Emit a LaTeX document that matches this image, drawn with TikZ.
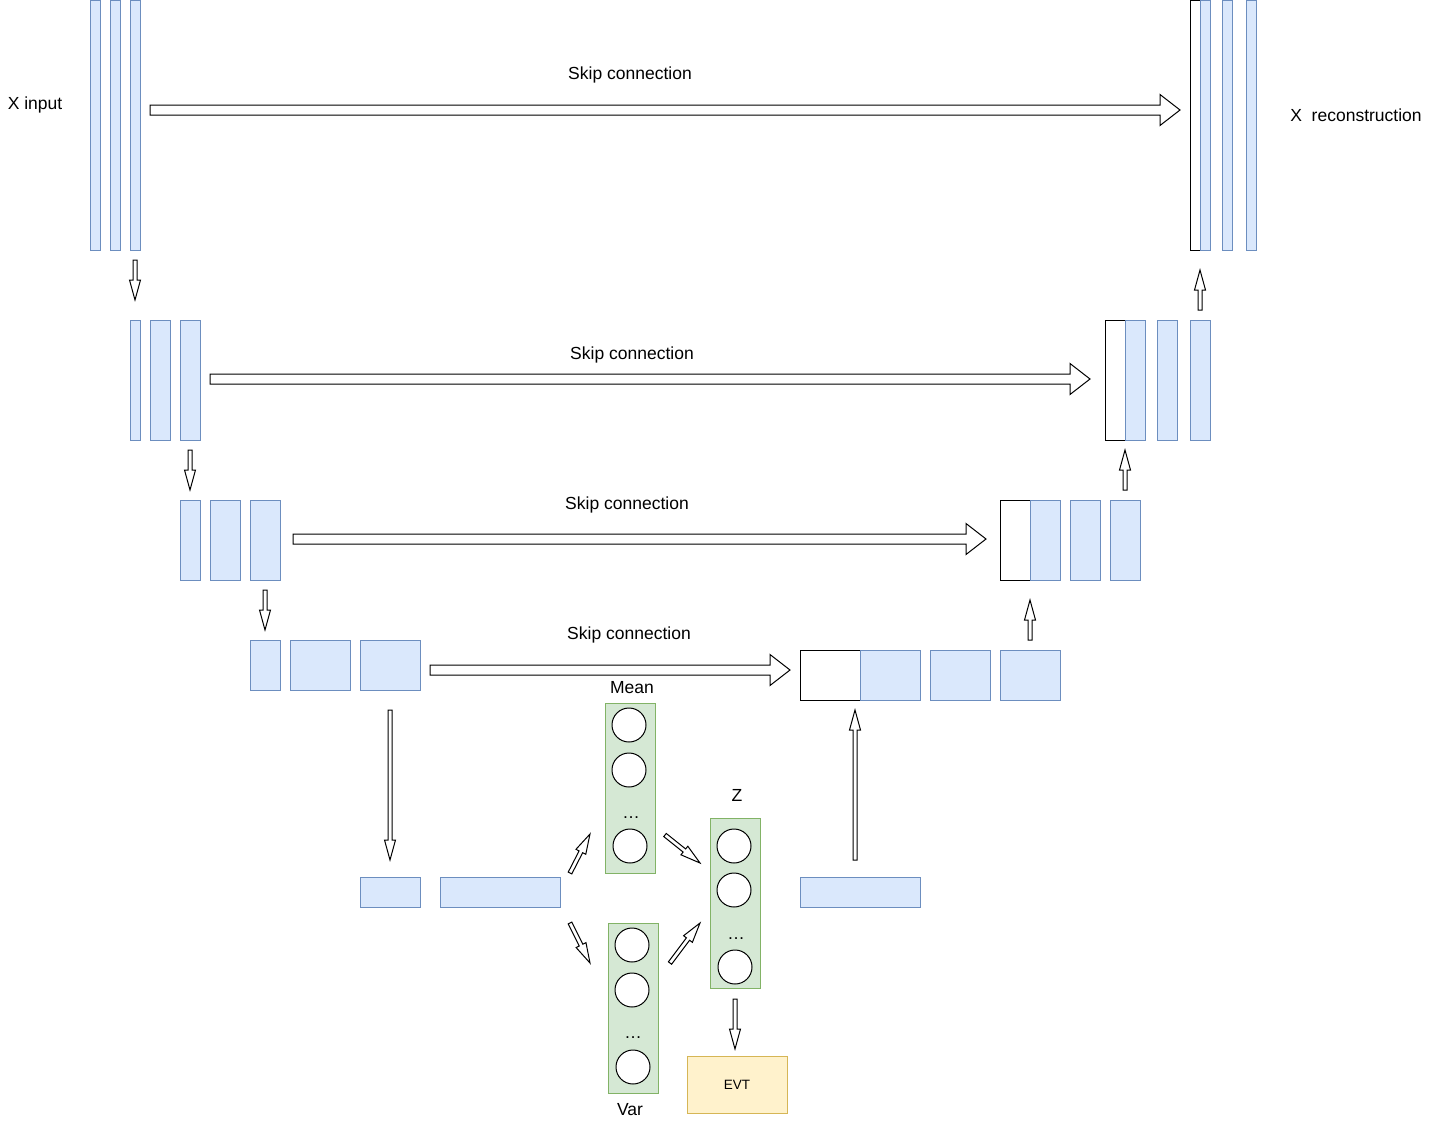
\documentclass[tikz,border=0pt]{standalone}
\usepackage{fontspec}
\setmainfont{Liberation Sans}
\usetikzlibrary{positioning,calc}
\definecolor{blueFill}{HTML}{DAE8FC}
\definecolor{blueLine}{HTML}{6C8EBF}
\definecolor{greenFill}{HTML}{D5E8D4}
\definecolor{greenLine}{HTML}{82B366}
\definecolor{yellowFill}{HTML}{FFF2CC}
\definecolor{yellowLine}{HTML}{D6B656}
\tikzset{x=1pt, y=-1pt,
every node/.style={font=\fontsize{17.5}{21}\selectfont}, % drawio sizes, 1px = 1pt
fmap/.style 2 args={draw=blueLine,fill=blueFill,inner sep=0pt,outer sep=0pt,anchor=north west,minimum width=#1,minimum height=#2},
copy/.style 2 args={draw=black,fill=white,inner sep=0pt,outer sep=0pt,anchor=north west,minimum width=#1,minimum height=#2},
layer/.style 2 args={draw=greenLine,fill=greenFill,inner sep=0pt,outer sep=0pt,anchor=north west,minimum width=#1,minimum height=#2},
unit/.style={circle,draw=black,fill=white,inner sep=0pt,minimum size=34pt},
flex/.style n args={3}{draw=black,fill=white,line width=1pt,to path={
  (\tikztostart) coordinate (fa) (\tikztotarget) coordinate (fb)
  ($(fb)!#3!(fa)$) coordinate (hb)
  ($(fa)!#1!90:(fb)$) -- ($(hb)!#1!90:(fb)$) -- ($(hb)!#2!90:(fb)$) -- (fb)
  -- ($(hb)!#2!-90:(fb)$) -- ($(hb)!#1!-90:(fb)$) -- ($(fa)!#1!-90:(fb)$) -- cycle}},
skip/.style={flex={5pt}{15.5pt}{20pt}},
flow/.style={flex={2pt}{5.5pt}{20pt}}
}
\begin{document}
\begin{tikzpicture}[line width=1pt]
    \useasboundingbox (0,0) rectangle (1438,1127);

    % encoder
    \node[fmap={10pt}{250pt}] (In1) at (90,0) {};
    \node[fmap={10pt}{250pt},right=10pt of In1] (In2) {};
    \node[fmap={10pt}{250pt},right=10pt of In2] (In3) {};
    \node[fmap={10pt}{120pt}] (E21) at (130,320) {};
    \node[fmap={20pt}{120pt},right=10pt of E21] (E22) {};
    \node[fmap={20pt}{120pt},right=10pt of E22] (E23) {};
    \node[fmap={20pt}{80pt}] (E31) at (180,500) {};
    \node[fmap={30pt}{80pt},right=10pt of E31] (E32) {};
    \node[fmap={30pt}{80pt},right=10pt of E32] (E33) {};
    \node[fmap={30pt}{50pt}] (E41) at (250,640) {};
    \node[fmap={60pt}{50pt},right=10pt of E41] (E42) {};
    \node[fmap={60pt}{50pt},right=10pt of E42] (E43) {};

    % bottleneck
    \node[fmap={60pt}{30pt}] (B1) at (360,877) {};
    \node[fmap={120pt}{30pt},right=20pt of B1] (B2) {};
    \node[fmap={120pt}{30pt}] (B3) at (800,877) {};

    % decoder
    \node[copy={60pt}{50pt}] (D40) at (800,650) {};
    \node[fmap={60pt}{50pt},right=0pt of D40] (D41) {};
    \node[fmap={60pt}{50pt},right=10pt of D41] (D42) {};
    \node[fmap={60pt}{50pt},right=10pt of D42] (D43) {};
    \node[copy={30pt}{80pt}] (D30) at (1000,500) {};
    \node[fmap={30pt}{80pt},right=0pt of D30] (D31) {};
    \node[fmap={30pt}{80pt},right=10pt of D31] (D32) {};
    \node[fmap={30pt}{80pt},right=10pt of D32] (D33) {};
    \node[copy={20pt}{120pt}] (D20) at (1105,320) {};
    \node[fmap={20pt}{120pt},right=0pt of D20] (D21) {};
    \node[fmap={20pt}{120pt},right=12pt of D21] (D22) {};
    \node[fmap={20pt}{120pt},right=13pt of D22] (D23) {};
    \node[copy={10pt}{250pt}] (Out0) at (1190,0) {};
    \node[fmap={10pt}{250pt},right=0pt of Out0] (Out1) {};
    \node[fmap={10pt}{250pt},right=12pt of Out1] (Out2) {};
    \node[fmap={10pt}{250pt},right=14pt of Out2] (Out3) {};

    % latent
    \node[layer={50pt}{170pt}] (Mean) at (605,703) {};
    \node[layer={50pt}{170pt}] (Var) at (608,923) {};
    \node[layer={50pt}{170pt}] (Z) at (710,818) {};
    \node[unit] (M1) at (629,725) {};
    \node[unit] (M2) at (629,770) {};
    \node[anchor=base,inner sep=0pt] (Md) at (631,818) {…};
    \node[unit] (M3) at (630,846) {};
    \node[unit] (V1) at (632,945) {};
    \node[unit] (V2) at (632,990) {};
    \node[anchor=base,inner sep=0pt] (Vd) at (633,1038) {…};
    \node[unit] (V3) at (633,1067) {};
    \node[unit] (Z1) at (734,846) {};
    \node[unit] (Z2) at (734,890) {};
    \node[anchor=base,inner sep=0pt] (Zd) at (736,939) {…};
    \node[unit] (Z3) at (735,967) {};
    \node[draw=yellowLine,fill=yellowFill,minimum width=100pt,minimum height=57pt,font=\fontsize{13.5}{16}\selectfont] (EVT) at (737,1085) {EVT};

    % labels
    \node (LIn) at (35,105) {X input};
    \node (LOut) at (1356,115) {X\ \ reconstruction};
    \node (Sk1) at (630,75) {Skip connection};
    \node (Sk2) at (632,355) {Skip connection};
    \node (Sk3) at (627,505) {Skip connection};
    \node (Sk4) at (629,635) {Skip connection};
    \node (LMean) at (632,688) {Mean};
    \node (LVar) at (630,1110) {Var};
    \node (LZ) at (737,795) {Z};

    % skip connections
    \draw[skip] ($(In3.east)+(10,-15)$) to ($(Out0.west)+(-10,-15)$);
    \draw[skip] ($(E23.east)+(10,-1)$) to ($(D20.west)+(-15,-1)$);
    \draw[skip] ($(E33.east)+(13,-1)$) to ($(D30.west)+(-14,-1)$);
    \draw[skip] ($(E43.east)+(10,5)$) to ($(D40.west)+(-10,-5)$);

    % down / up
    \draw[flow] ($(In3.south)+(0,10)$) to ($(In3.south |- E21.north)+(0,-20)$);
    \draw[flow] ($(E23.south)+(0,10)$) to ($(E23.south |- E31.north)+(0,-10)$);
    \draw[flow] ($(E33.south)+(0,10)$) to ($(E33.south |- E41.north)+(0,-10)$);
    \draw[flow] ($(E43.south)+(0,20)$) to ($(E43.south |- B1.north)+(0,-17)$);
    \draw[flow] ($(B3.north)+(-5,-17)$) to ($(B3.north |- D40.south)+(-5,10)$);
    \draw[flow] ($(D43.north)+(0,-10)$) to ($(D43.north |- D31.south)+(0,20)$);
    \draw[flow] ($(D33.north)+(0,-10)$) to ($(D33.north |- D21.south)+(0,10)$);
    \draw[flow] ($(D23.north)+(0,-10)$) to ($(D23.north |- Out1.south)+(0,20)$);

    % latent sampling
    \draw[flow] ($(B2.east)+(10,-19)$) to ($(Mean.south west)+(-15,-39)$);
    \draw[flow] ($(B2.east)+(10,31)$) to ($(Var.north west)+(-18,40)$);
    \draw[flow] ($(Mean.south east)+(10,-38)$) to ($(Z.north west)+(-10,45)$);
    \draw[flow] ($(Var.north east)+(12,40)$) to ($(Z.north west)+(-10,105)$);
    \draw[flow] ($(Z.south)+(0,11)$) to ($(Z.south)+(0,61)$);
\end{tikzpicture}
\end{document}
